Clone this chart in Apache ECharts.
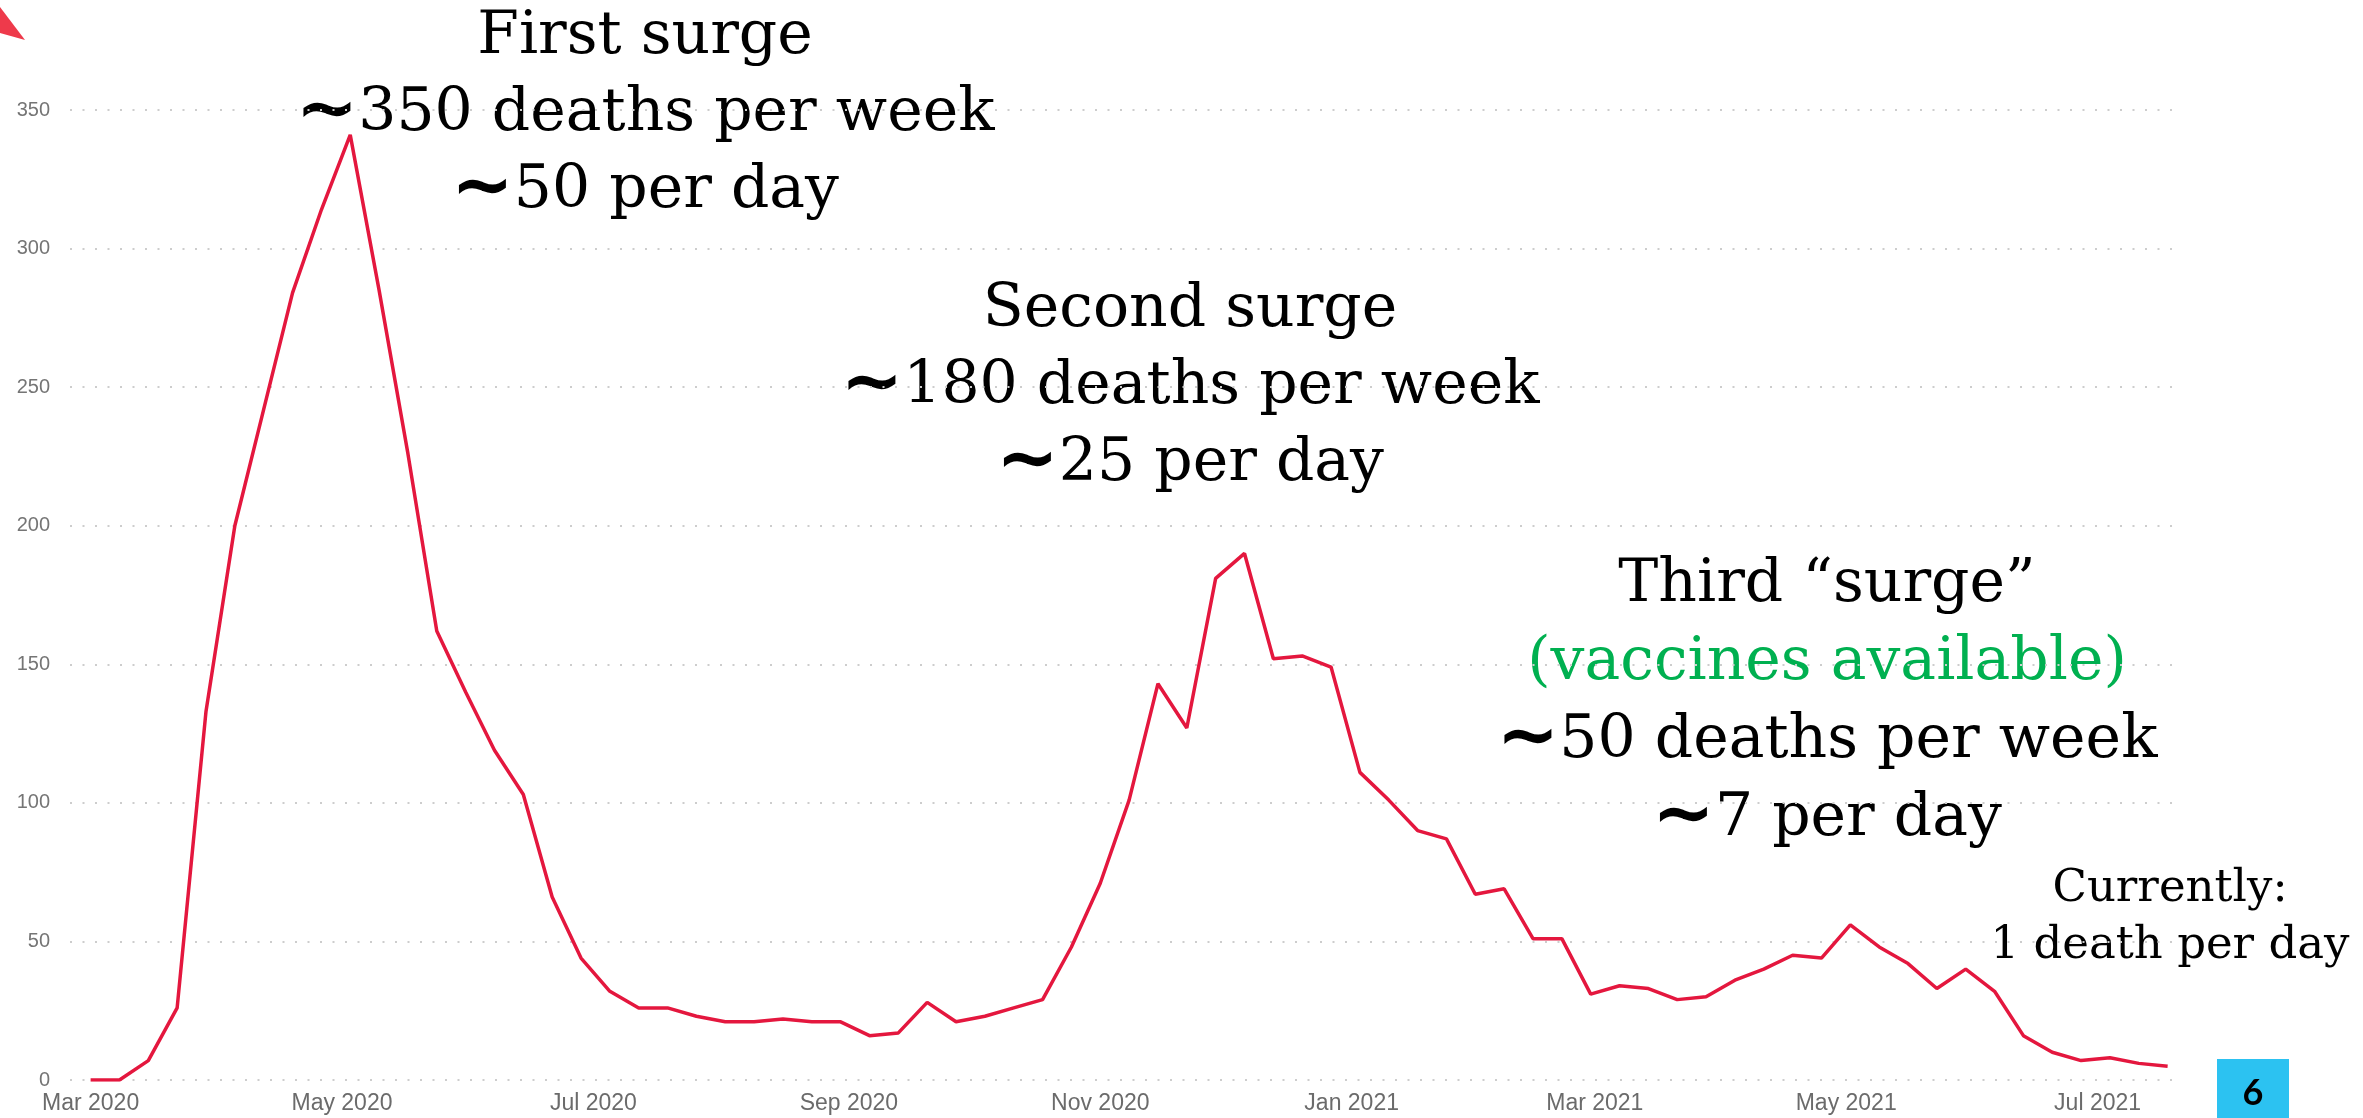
<!DOCTYPE html>
<html>
<head>
<meta charset="utf-8">
<style>
  html, body { margin: 0; padding: 0; background: #fff; }
  #main { width: 2363px; height: 1118px; }
</style>
<script src="https://cdn.jsdelivr.net/npm/echarts@6/dist/echarts.min.js"></script>
</head>
<body>
<div id="main"></div>
<script>
// weekly deaths, first week starting 1 Mar 2020
var firstWeek = [2020, 2, 1];
var deaths = [
    0, 0, 7, 26, 133, 200, 242, 284, 314, 341,
    285, 226, 162, 140, 119, 103, 66, 44, 32, 26,
    26, 23, 21, 21, 22, 21, 21, 16, 17, 28,
    21, 23, 26, 29, 48, 71, 101, 143, 127, 181,
    190, 152, 153, 149, 111, 101, 90, 87, 67, 69,
    51, 51, 31, 34, 33, 29, 30, 36, 40, 45,
    44, 56, 48, 42, 33, 40, 32, 16, 10, 7,
    8, 6, 5
];
var monthTicks = ['2020-03-01', '2020-05-01', '2020-07-01', '2020-09-01', '2020-11-01',
    '2021-01-01', '2021-03-01', '2021-05-01', '2021-07-01'];
var monthNames = ['Jan', 'Feb', 'Mar', 'Apr', 'May', 'Jun', 'Jul', 'Aug', 'Sep', 'Oct', 'Nov', 'Dec'];
var xRange = ['2020-02-25', '2021-07-21'];

var firstSurge = ['First surge', '∼350 deaths per week', '∼50 per day'];
var secondSurge = ['Second surge', '∼180 deaths per week', '∼25 per day'];
var thirdSurge = ['Third “surge”', '(vaccines available)', '∼50 deaths per week', '∼7 per day'];
var currently = ['Currently:', '1 death per day'];
var slideNumber = '6';

function toTime(s) {
    var p = s.split('-');
    return new Date(+p[0], +p[1] - 1, +p[2]).getTime();
}

var seriesData = deaths.map(function (v, i) {
    var t = new Date(firstWeek[0], firstWeek[1], firstWeek[2] + 7 * i).getTime();
    return [t, v];
});

// one text element per line, centred on cx; a leading tilde is drawn heavier
function textBlock(lines, cx, cy, lineH, size, colors) {
    return lines.map(function (line, i) {
        var color = (colors && colors[i]) || '#000';
        var text = line.charAt(0) === '∼'
            ? '{t|∼}{n|' + line.slice(1) + '}'
            : '{n|' + line + '}';
        return {
            type: 'text',
            x: cx,
            y: cy + i * lineH,
            silent: true,
            style: {
                text: text,
                textAlign: 'center',
                textVerticalAlign: 'middle',
                rich: {
                    n: { fontFamily: '"DejaVu Serif", serif', fontSize: size, lineHeight: lineH, fill: color },
                    t: { fontFamily: '"DejaVu Sans", sans-serif', fontSize: size * 1.25, lineHeight: lineH, fontWeight: 'bold', fill: color }
                }
            }
        };
    });
}

var chart = echarts.init(document.getElementById('main'));

var graphics = []
    .concat(textBlock(firstSurge, 645, 37, 77, 60))
    .concat(textBlock(secondSurge, 1190, 310, 77, 60))
    .concat(textBlock(thirdSurge, 1827, 585, 78, 60, [null, '#00B050']))
    .concat(textBlock(currently, 2170, 889, 57, 45));

graphics.push({
    type: 'polygon',
    silent: true,
    shape: { points: [[0, 7], [0, 33], [25, 40]] },
    style: { fill: '#EE3A4B' }
});
graphics.push({
    type: 'rect',
    silent: true,
    shape: { x: 2217, y: 1059, width: 72, height: 59 },
    style: { fill: '#2CC2F1' }
});
graphics.push({
    type: 'text',
    silent: true,
    x: 2253,
    y: 1093,
    style: {
        text: slideNumber,
        fontFamily: 'Lato, "DejaVu Sans", sans-serif',
        fontWeight: 'bold',
        fontSize: 36,
        fill: '#000',
        textAlign: 'center',
        textVerticalAlign: 'middle'
    }
});

var option = {
    animation: false,
    backgroundColor: '#fff',
    grid: {
        left: 70,
        right: 183,
        top: 110,
        bottom: 38,
        outerBoundsMode: 'none'
    },
    xAxis: {
        type: 'value',
        min: toTime(xRange[0]),
        max: toTime(xRange[1]),
        axisLine: { show: false },
        axisTick: { show: false },
        splitLine: { show: false },
        axisLabel: {
            customValues: monthTicks.map(toTime),
            margin: 12,
            fontSize: 23,
            fontFamily: '"Liberation Sans", Arial, sans-serif',
            color: '#6b6b6b',
            formatter: function (value) {
                var d = new Date(value);
                return monthNames[d.getMonth()] + ' ' + d.getFullYear();
            }
        }
    },
    yAxis: {
        type: 'value',
        min: 0,
        max: 350,
        interval: 50,
        axisLine: { show: false },
        axisTick: { show: false },
        axisLabel: {
            margin: 20,
            fontSize: 20,
            fontFamily: '"Liberation Sans", Arial, sans-serif',
            color: '#757575'
        },
        splitLine: {
            lineStyle: { color: '#cdcdcd', width: 2, type: [2, 10.5] }
        }
    },
    series: [{
        type: 'line',
        data: seriesData,
        showSymbol: false,
        symbol: 'none',
        lineStyle: { color: '#E4173E', width: 3.5 },
        itemStyle: { color: '#E4173E' }
    }],
    graphic: graphics
};

chart.setOption(option);
window.onresize = chart.resize;
</script>
</body>
</html>
